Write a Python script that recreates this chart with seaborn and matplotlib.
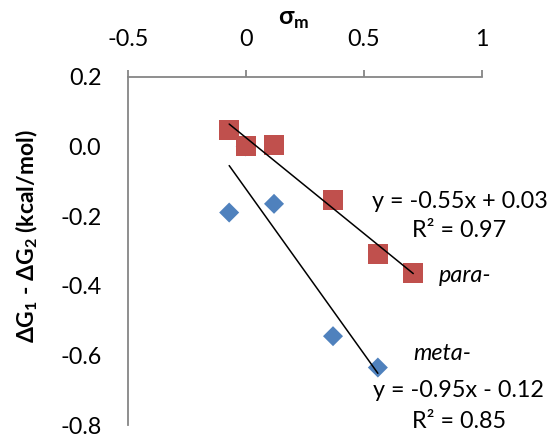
import numpy as np
import pandas as pd
import matplotlib
matplotlib.use("Agg")
import matplotlib.pyplot as plt
import seaborn as sns
from matplotlib.ticker import FixedLocator, FuncFormatter

# ---- data ----
para_x = [-0.07, 0.0, 0.12, 0.37, 0.56, 0.71]
para_y = [0.048, 0.0, 0.005, -0.155, -0.31, -0.365]
meta_x = [-0.07, 0.0, 0.12, 0.37, 0.56]
meta_y = [-0.19, 0.0, -0.165, -0.545, -0.635]
x_ticks = [-0.5, 0, 0.5, 1]
y_ticks = [0.2, 0.0, -0.2, -0.4, -0.6, -0.8]
para_eq = "y = -0.55x + 0.03"
para_r2 = "R² = 0.97"
meta_eq = "y = -0.95x - 0.12"
meta_r2 = "R² = 0.85"

para = pd.DataFrame({"x": para_x, "y": para_y})
meta = pd.DataFrame({"x": meta_x, "y": meta_y})

sns.set_theme(style="white")
plt.rcParams["font.family"] = ["Lato", "DejaVu Sans"]
plt.rcParams["axes.unicode_minus"] = False
plt.rcParams["mathtext.fontset"] = "custom"
plt.rcParams["mathtext.rm"] = "Lato"
plt.rcParams["mathtext.bf"] = "Lato:bold"

FS = 16.8
fig = plt.figure(figsize=(5.5, 4.34), dpi=100)
ax = fig.add_axes([127.7 / 550, 1 - 425 / 434, (481.7 - 127.7) / 550, (425 - 76.7) / 434])

blue = "#4F81BD"
red = "#C0504D"

sns.scatterplot(data=meta, x="x", y="y", marker="D", s=104, color=blue,
                edgecolor="none", ax=ax, zorder=3, clip_on=False)
sns.scatterplot(data=para, x="x", y="y", marker="s", s=207, color=red,
                edgecolor="none", ax=ax, zorder=4, clip_on=False)
sns.regplot(data=para, x="x", y="y", scatter=False, ci=None, ax=ax,
            line_kws={"color": "black", "lw": 1.1, "zorder": 5})
sns.regplot(data=meta, x="x", y="y", scatter=False, ci=None, ax=ax,
            line_kws={"color": "black", "lw": 1.1, "zorder": 5})

ax.set_xlim(-0.5, 1)
ax.set_ylim(-0.8, 0.2)

gray = "#868686"
for s in ["right", "bottom"]:
    ax.spines[s].set_visible(False)
for s in ["left", "top"]:
    ax.spines[s].set_color(gray)
    ax.spines[s].set_linewidth(1.3)

ax.xaxis.tick_top()
ax.xaxis.set_major_locator(FixedLocator(x_ticks))
ax.xaxis.set_major_formatter(FuncFormatter(lambda v, p: f"{v:g}"))
ax.yaxis.set_major_locator(FixedLocator(y_ticks))
ax.yaxis.set_major_formatter(FuncFormatter(lambda v, p: f"{v:.1f}"))
ax.tick_params(axis="x", top=True, direction="out", length=5, width=1.3,
               color=gray, labelsize=FS, pad=14, labelcolor="black")
ax.tick_params(axis="y", left=False, length=0, labelsize=FS, pad=19,
               labelcolor="black")

ax.xaxis.set_label_position("top")
ax.set_xlabel(r"σ$_\mathbf{m}$", fontsize=18, fontweight="bold", color="black")
ax.xaxis.label.set_va("center")
ax.xaxis.set_label_coords(0.47, 1.163)
ax.set_ylabel(r"ΔG$_\mathbf{1}$ - ΔG$_\mathbf{2}$ (kcal/mol)", fontsize=16.5,
              fontweight="bold", color="black")
ax.yaxis.label.set_va("center")
ax.yaxis.set_label_coords(-0.286, 0.541)

tk = dict(fontsize=FS, color="black", ha="left", va="center", clip_on=False)
ax.text(0.536, -0.157, para_eq, **tk)
ax.text(0.706, -0.243, para_r2, **tk)
ax.text(0.82, -0.371, "para-", style="italic", **tk)
ax.text(0.711, -0.594, "meta-", style="italic", **tk)
ax.text(0.541, -0.700, meta_eq, **tk)
ax.text(0.706, -0.790, meta_r2, **tk)

fig.savefig("out.png", dpi=100)
